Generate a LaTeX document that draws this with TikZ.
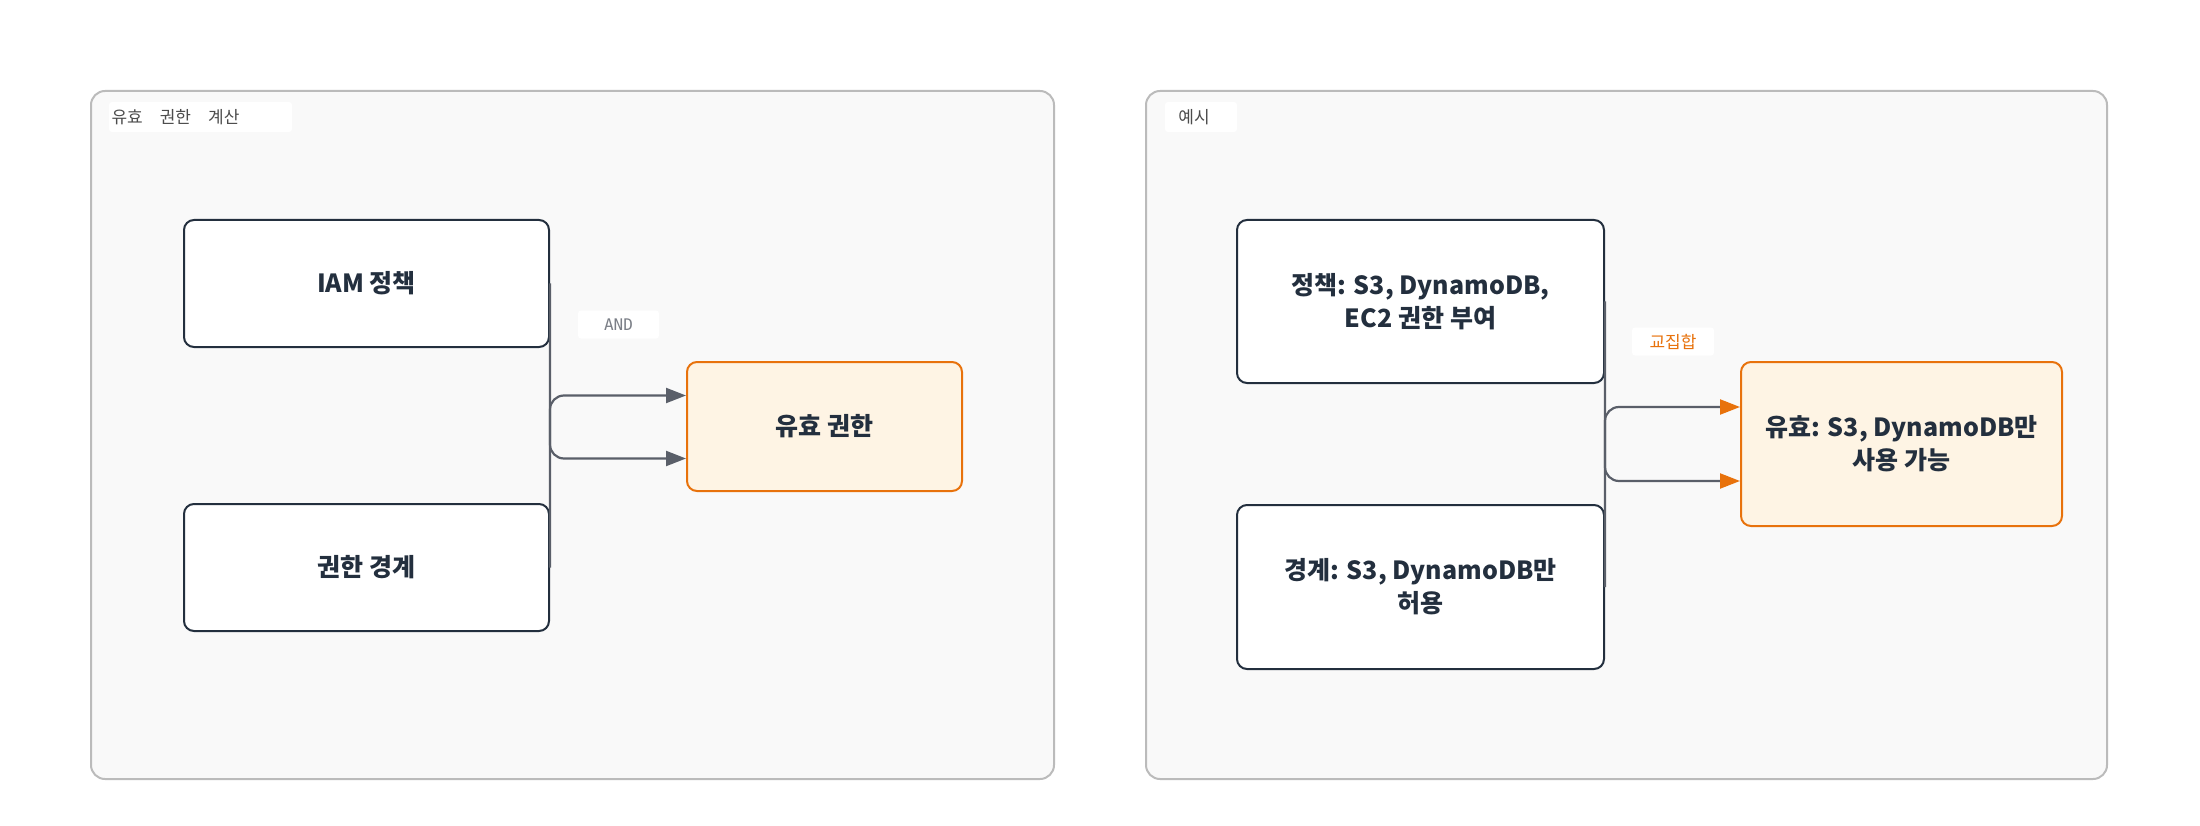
\documentclass[tikz,border=0pt]{standalone}
\usepackage{fontspec}
\setmainfont{Noto Sans CJK KR}
\newfontfamily\monofont{DejaVu Sans Mono}
\usetikzlibrary{positioning,arrows.meta,backgrounds}
\definecolor{ink}{HTML}{232F3E}
\definecolor{edgegray}{HTML}{5A5F69}
\definecolor{accent}{HTML}{E8720C}
\definecolor{warm}{HTML}{FEF4E4}
\definecolor{panel}{HTML}{F9F9F9}
\definecolor{panelline}{HTML}{BBBBBB}
\begin{document}
\begin{tikzpicture}[x=1pt,y=-1pt,line width=2pt]
\tikzstyle{grp} = [draw=panelline,fill=panel,line width=2pt,rounded corners=14pt]
\tikzstyle{tag} = [fill=white,rounded corners=3pt,inner sep=0pt,text=black!70,font=\fontsize{17}{20}\selectfont]
\tikzstyle{box} = [draw=ink,fill=white,rounded corners=10pt,text=ink,align=center,
  font=\bfseries\fontsize{25}{33}\selectfont]
\tikzstyle{res} = [box,draw=accent,fill=warm]
\tikzstyle{lnk} = [draw=edgegray,line width=2.2pt,rounded corners=14pt,-{Triangle[length=20pt,width=15pt]}]
\tikzstyle{lab} = [fill=white,rounded corners=3pt,inner sep=0pt,minimum height=28pt]
\useasboundingbox (0,0) rectangle (2200,826);
% left panel
\node[grp,minimum width=963pt,minimum height=688pt] (calc) at (572.5,435) {};
\node[tag,minimum width=183pt,minimum height=30pt] (calctag) at (200.5,117) {\hspace*{-50pt}유효\quad 권한\quad 계산};
\node[box,minimum width=365pt,minimum height=127pt] (iam) at (366.5,283.5) {IAM 정책};
\node[box,minimum width=365pt,minimum height=127pt] (pb) at (366.5,567.5) {권한 경계};
\node[res,minimum width=275pt,minimum height=129pt] (eff) at (824.5,426.5) {유효 권한};
\draw[lnk] (iam.east) |- ([yshift=-32pt]eff.west);
\draw[lnk] (pb.east) |- ([yshift=31pt]eff.west);
\node[lab,minimum width=81pt,text=edgegray!80,font=\monofont\fontsize{16}{18}\selectfont] (and) at (618.5,324.5) {AND};
% right panel
\node[grp,minimum width=961pt,minimum height=688pt] (ex) at (1626.5,435) {};
\node[tag,minimum width=72pt,minimum height=30pt] (extag) at (1201,117) {\hspace*{-14pt}예시};
\node[box,minimum width=367pt,minimum height=163pt] (pol) at (1420.5,301.5) {정책: S3, DynamoDB,\\EC2 권한 부여};
\node[box,minimum width=367pt,minimum height=164pt] (bnd) at (1420.5,587) {경계: S3, DynamoDB만\\허용};
\node[res,minimum width=321pt,minimum height=164pt] (out) at (1901.5,444) {유효: S3, DynamoDB만\\사용 가능};
\draw[lnk,-{Triangle[length=20pt,width=15pt,fill=accent,color=accent]}] (pol.east) |- ([yshift=-37pt]out.west);
\draw[lnk,-{Triangle[length=20pt,width=15pt,fill=accent,color=accent]}] (bnd.east) |- ([yshift=37pt]out.west);
\node[lab,minimum width=82pt,text=accent,font=\fontsize{17}{20}\selectfont] (isect) at (1673,341.5) {교집합};
\end{tikzpicture}
\end{document}
